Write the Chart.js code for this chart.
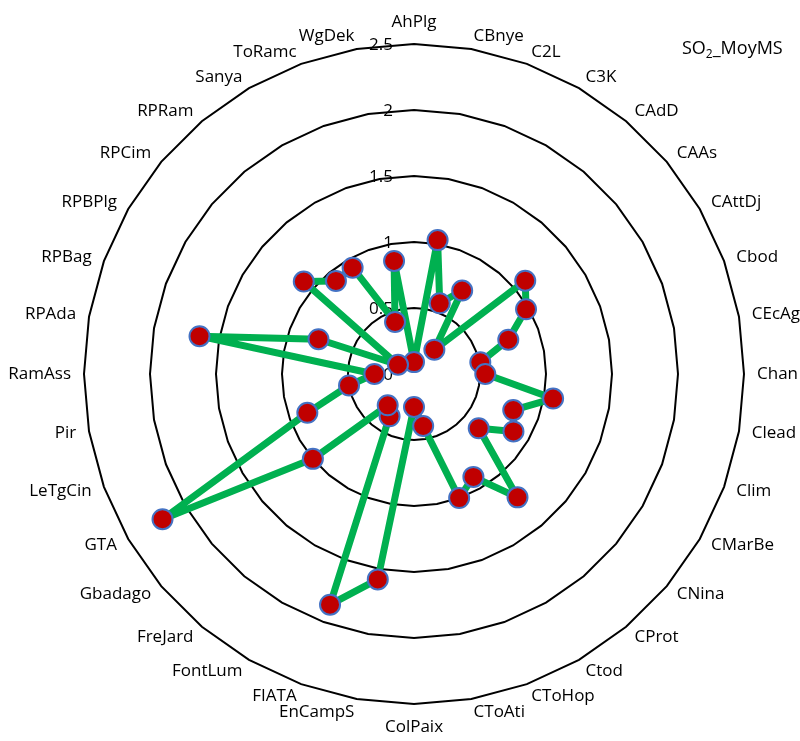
<!DOCTYPE html>
<html>
<head>
<meta charset="utf-8">
<script src="https://cdn.jsdelivr.net/npm/chart.js@4.4.1/dist/chart.umd.min.js"></script>
<style>
  body { margin: 0; background: #fff; }
  canvas { display: block; }
</style>
</head>
<body>
<canvas id="radar" width="800" height="741"></canvas>
<script>
// sites, clockwise from the top
const categories = [
  "AhPlg", "CBnye", "C2L", "C3K", "CAdD", "CAAs", "CAttDj", "Cbod", "CEcAg",
  "Chan", "Clead", "Clim", "CMarBe", "CNina", "CProt", "Ctod", "CToHop", "CToAti",
  "ColPaix", "EnCampS", "FIATA", "FontLum", "FreJard", "Gbadago", "GTA", "LeTgCin",
  "Pir", "RamAss", "RPAda", "RPBag", "RPBPlg", "RPCim", "RPRam", "Sanya", "ToRamc", "WgDek"
];

const so2Values = [
  0.09, 1.03, 0.57, 0.73, 0.24, 1.10, 0.98, 0.76, 0.51,
  0.54, 1.07, 0.80, 0.87, 0.64, 1.22, 0.90, 1.00, 0.40,
  0.25, 1.58, 1.86, 0.37, 0.31, 1.00, 2.20, 0.86,
  0.50, 0.30, 1.65, 0.77, 0.14, 1.09, 0.92, 0.93, 0.42, 0.87
];

const tickValues = [0, 0.5, 1, 1.5, 2, 2.5];
const tickLabels = ["0", "0.5", "1", "1.5", "2", "2.5"];

const seriesName = "SO2_MoyMS";
const legendParts = ["SO", "2", "_MoyMS"]; // "2" is a subscript

const fontFam = '"Open Sans", "DejaVu Sans", sans-serif';
const labelFont = '17px ' + fontFam;

// labels round the web, tick labels left of the axis, and the legend text
const aroundLabels = {
  id: 'aroundLabels',
  beforeDatasetsDraw(chart) {
    const r = chart.scales.r, ctx = chart.ctx;
    ctx.save();
    ctx.font = labelFont;
    ctx.fillStyle = '#000';
    ctx.textAlign = 'right';
    ctx.textBaseline = 'middle';
    tickValues.forEach((v, i) => {
      const y = r.yCenter - r.getDistanceFromCenterForValue(v);
      ctx.fillText(tickLabels[i], r.xCenter - 21, y + 1);
    });
    ctx.restore();
  },
  afterDraw(chart) {
    const r = chart.scales.r, ctx = chart.ctx;
    ctx.save();
    ctx.font = labelFont;
    ctx.fillStyle = '#000';
    categories.forEach((c, i) => {
      const p = r.getPointPosition(i, r.drawingArea + 13);
      const deg = Math.round(i * 360 / categories.length);
      if (deg === 0) {
        ctx.textAlign = 'center'; ctx.textBaseline = 'bottom';
        ctx.fillText(c, p.x, p.y);
      } else if (deg === 180) {
        ctx.textAlign = 'center'; ctx.textBaseline = 'top';
        ctx.fillText(c, p.x, p.y + 2);
      } else {
        ctx.textAlign = deg < 180 ? 'left' : 'right';
        ctx.textBaseline = 'middle';
        ctx.fillText(c, p.x, p.y);
      }
    });

    // legend entry, top right
    let x = 682;
    ctx.textAlign = 'left';
    ctx.textBaseline = 'alphabetic';
    ctx.font = '18px ' + fontFam;
    ctx.fillText(legendParts[0], x, 54);
    x += ctx.measureText(legendParts[0]).width;
    ctx.font = '12px ' + fontFam;
    ctx.fillText(legendParts[1], x, 58);
    x += ctx.measureText(legendParts[1]).width;
    ctx.font = '18px ' + fontFam;
    ctx.fillText(legendParts[2], x, 54);
    ctx.restore();
  }
};

new Chart(document.getElementById('radar'), {
  type: 'radar',
  data: {
    labels: categories,
    datasets: [{
      label: seriesName,
      data: so2Values,
      borderColor: '#00B050',
      borderWidth: 7,
      borderJoinStyle: 'round',
      borderCapStyle: 'round',
      fill: false,
      tension: 0,
      pointRadius: 10,
      pointBackgroundColor: '#C00000',
      pointBorderColor: '#4472C4',
      pointBorderWidth: 2
    }]
  },
  options: {
    responsive: false,
    animation: false,
    layout: { padding: { left: 84, right: 56, top: 44, bottom: 37 } },
    plugins: {
      legend: { display: false },
      tooltip: { enabled: false }
    },
    scales: {
      r: {
        min: 0,
        max: 2.5,
        afterBuildTicks: s => { s.ticks = tickValues.map(v => ({ value: v })); },
        ticks: { display: false, stepSize: 0.5 },
        grid: { circular: false, color: '#000', lineWidth: 2 },
        angleLines: { display: false },
        pointLabels: { display: false }
      }
    }
  },
  plugins: [aroundLabels]
});
</script>
</body>
</html>
